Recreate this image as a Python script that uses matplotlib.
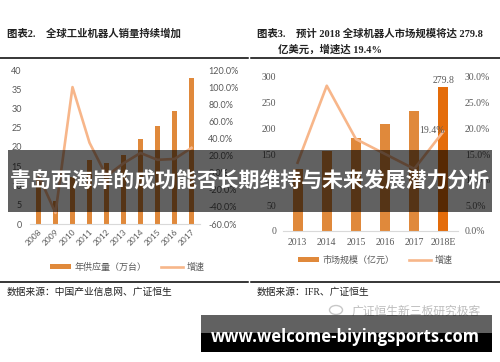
import matplotlib
matplotlib.use('Agg')
import matplotlib.pyplot as plt
from matplotlib.patches import Rectangle, Ellipse
from matplotlib.lines import Line2D
from matplotlib.ticker import FuncFormatter

# 图表2: 全球工业机器人销量
years_l = ['2008', '2009', '2010', '2011', '2012', '2013', '2014', '2015', '2016', '2017']
supply = [11.3, 6.0, 12.1, 16.6, 15.9, 17.8, 22.1, 25.4, 29.4, 37.8]
growth_l = [-0.03, -0.47, 1.00, 0.35, -0.04, 0.11, 0.23, 0.15, 0.16, 0.29]

# 图表3: 全球机器人市场规模
years_r = ['2013', '2014', '2015', '2016', '2017', '2018E']
market = [121, 156, 182, 208, 234, 279.8]
growth_r = [0.133, 0.283, 0.179, 0.150, 0.121, 0.194]

W, H = 500, 362
BAR = '#E0893B'
BAR_HI = '#E46C0A'
LINE = '#F7B68A'
GREY = '#595959'
SERIF_CJK = ['Liberation Serif', 'Noto Sans CJK SC']
SANS_CJK = ['Lato', 'Noto Sans CJK SC']

plt.rcParams['font.family'] = SANS_CJK


def fx(px):
    return px / W


def fy(py):
    return 1 - py / H


def box(x0, y0, x1, y1):
    return [fx(x0), fy(y1), (x1 - x0) / W, (y1 - y0) / H]


fig = plt.figure(figsize=(W / 100, H / 100), dpi=100)
fig.patch.set_facecolor('white')

### 1. left chart
ax = fig.add_axes(box(30, 70, 200, 224))
xl = range(len(years_l))
bars_l = ax.bar(xl, supply, width=0.32, color=BAR, zorder=2)
ax.set_xlim(-0.5, len(years_l) - 0.5)
ax.set_ylim(0, 40)
ax.set_yticks(range(0, 41, 5))
ax.set_xticks(list(xl))
ax.set_xticklabels(years_l, rotation=45, ha='right', rotation_mode='anchor')
ax2 = ax.twinx()
line_l, = ax2.plot(xl, growth_l, color=LINE, lw=1.9, zorder=3)
ax2.set_ylim(-0.6, 1.2)
ax2.set_yticks([-0.6, -0.4, -0.2, 0, 0.2, 0.4, 0.6, 0.8, 1.0, 1.2])
ax2.yaxis.set_major_formatter(FuncFormatter(lambda v, p: '%.1f%%' % (v * 100)))
for a in (ax, ax2):
    for s in a.spines.values():
        s.set_visible(False)
    a.tick_params(length=0, labelsize=6.5, labelcolor=GREY, pad=6)
ax.spines['bottom'].set_visible(True)
ax.spines['bottom'].set_color('#D9D9D9')
ax.tick_params(axis='x', pad=3, labelsize=6)

ax.legend([bars_l, line_l], ['年供应量（万台）', '增速'], loc='center',
          bbox_to_anchor=(fx(127), fy(267)), bbox_transform=fig.transFigure,
          ncol=2, frameon=False, handlelength=2.4, handleheight=0.5,
          handletextpad=0.4, columnspacing=1.6,
          prop={'family': SERIF_CJK, 'size': 6.5}, labelcolor=GREY)

### 2. right chart
bx = fig.add_axes(box(283, 77, 458, 231))
xr = range(len(years_r))
colors = [BAR] * (len(years_r) - 1) + [BAR_HI]
bars_r = bx.bar(xr, market, width=0.34, color=colors, zorder=2)
bx.set_xlim(-0.5, len(years_r) - 0.5)
bx.set_ylim(0, 300)
bx.set_yticks(range(0, 301, 50))
bx.set_xticks(list(xr))
bx.set_xticklabels(years_r)
bx2 = bx.twinx()
line_r, = bx2.plot(xr, growth_r, color=LINE, lw=1.9, zorder=3)
bx2.set_ylim(0, 0.30)
bx2.set_yticks([0, 0.05, 0.10, 0.15, 0.20, 0.25, 0.30])
bx2.yaxis.set_major_formatter(FuncFormatter(lambda v, p: '%.1f%%' % (v * 100)))
for a in (bx, bx2):
    for s in a.spines.values():
        s.set_visible(False)
    a.tick_params(length=0, labelsize=7, labelcolor=GREY, pad=5)
    for t in a.get_xticklabels() + a.get_yticklabels():
        t.set_family('Liberation Serif')
bx.spines['bottom'].set_visible(True)
bx.spines['bottom'].set_color('#D9D9D9')
bx.tick_params(axis='x', pad=5)

bx.text(5, market[-1] + 4, '279.8', ha='center', va='bottom', fontsize=7,
        color=GREY, family='Liberation Serif')
bx2.annotate('19.4%', (5, growth_r[-1]), xytext=(1, 1), textcoords='offset points',
             ha='right', va='center', fontsize=7, color=GREY, family='Liberation Serif')

bx.legend([bars_r[0], line_r], ['市场规模（亿元）', '增速'], loc='center',
          bbox_to_anchor=(fx(375), fy(260)), bbox_transform=fig.transFigure,
          ncol=2, frameon=False, handlelength=2.4, handleheight=0.5,
          handletextpad=0.4, columnspacing=1.6,
          prop={'family': SERIF_CJK, 'size': 6.5}, labelcolor=GREY)

### 3. titles, rules and sources
fig.text(fx(7), fy(34), '图表2.    全球工业机器人销量持续增加', fontsize=7.5,
         weight='bold', family=SERIF_CJK, va='center', color='#222222')
fig.text(fx(257), fy(34), '图表3.    预计 2018 全球机器人市场规模将达 279.8', fontsize=7.5,
         weight='bold', family=SERIF_CJK, va='center', color='#222222')
fig.text(fx(278), fy(50), '亿美元，增速达 19.4%', fontsize=7.5,
         weight='bold', family=SERIF_CJK, va='center', color='#222222')
fig.text(fx(7), fy(292), '数据来源：中国产业信息网、广证恒生', fontsize=7,
         family=SERIF_CJK, va='center', color='#222222')
fig.text(fx(257), fy(292), '数据来源：IFR、广证恒生', fontsize=7,
         family=SERIF_CJK, va='center', color='#222222')
for x0, x1 in [(0, 248), (251, 500)]:
    for yy in (58, 282):
        fig.add_artist(Line2D([fx(x0), fx(x1)], [fy(yy), fy(yy)], color='black',
                              lw=1.1, transform=fig.transFigure))

# watermark
fig.add_artist(Ellipse((fx(336), fy(310)), 13 / W, 9 / H, transform=fig.transFigure,
                       fill=False, ec='#C8C8C8', lw=1))
fig.text(fx(352), fy(311), '广证恒生新三板研究极客', fontsize=8.5, color='#BDBDBD',
         va='center', family='Noto Sans CJK SC')

### 4. overlays
fig.add_artist(Rectangle((fx(8), fy(212)), (492 - 8) / W, 62 / H, transform=fig.transFigure,
                         color='black', alpha=0.62, lw=0, zorder=5))
fig.text(fx(250), fy(181), '青岛西海岸的成功能否长期维持与未来发展潜力分析', fontsize=15,
         weight='bold', color='white', ha='center', va='center',
         family='Noto Sans CJK SC', zorder=6)
fig.add_artist(Rectangle((fx(201), fy(352)), (492 - 201) / W, 37 / H, transform=fig.transFigure,
                         color='black', alpha=0.62, lw=0, zorder=5))
fig.add_artist(Rectangle((fx(201), fy(352)), (492 - 201) / W, 19 / H, transform=fig.transFigure,
                         color='black', lw=0, zorder=5))
fig.text(fx(345), fy(337), 'www.welcome-biyingsports.com', fontsize=12, weight='bold',
         color='white', ha='center', va='center', family='Open Sans', zorder=6)

fig.savefig('out.png', dpi=100)
